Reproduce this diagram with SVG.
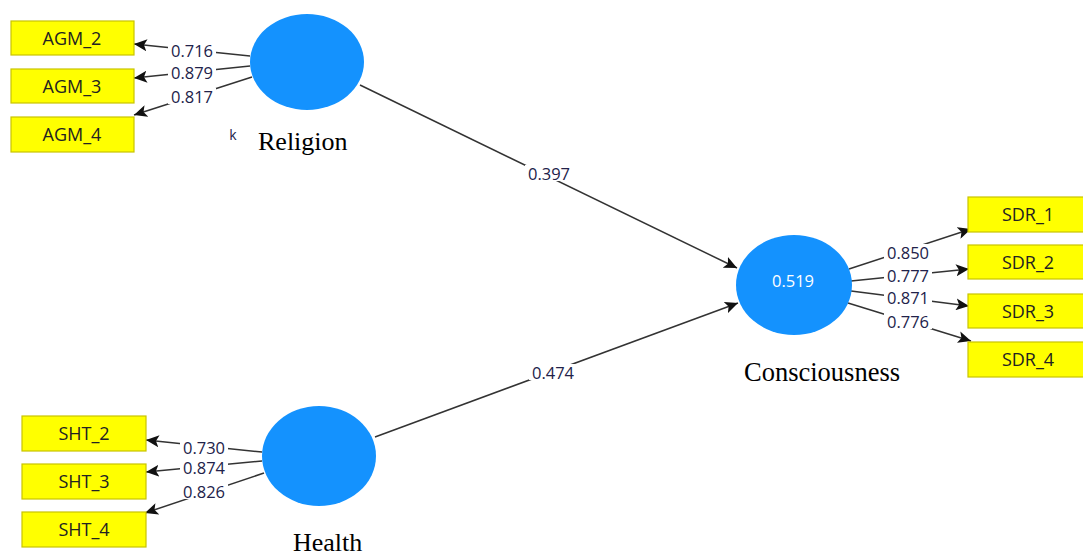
<svg xmlns="http://www.w3.org/2000/svg" width="1083" height="556" viewBox="0 0 1083 556">
<defs>
<marker id="ah" markerUnits="userSpaceOnUse" markerWidth="14" markerHeight="12" refX="13" refY="6" orient="auto">
<path d="M0,0 L13,6 L0,12 L3,6 z" fill="#111"/>
</marker>
<style>
.box{fill:#ffff00;stroke:#c9c400;stroke-width:1.2}
.bt{font-family:"Open Sans","Noto Sans",sans-serif;font-size:18px;fill:#222;text-anchor:middle;dominant-baseline:central}
.lat{fill:#1492fe}
.nm{font-family:"Liberation Serif","Times New Roman",serif;font-size:26px;fill:#000}
.ln{stroke:#333;stroke-width:1.5;fill:none;marker-end:url(#ah)}
.lb{font-family:"Open Sans","Noto Sans",sans-serif;font-size:16.5px;fill:#22224a;text-anchor:middle;dominant-baseline:central}
.bg{fill:#fff}
</style>
</defs>
<rect width="1083" height="556" fill="#fff"/>
<g id="connectors">
<line class="ln" x1="250" y1="56" x2="134" y2="44"/>
<line class="ln" x1="250" y1="66" x2="134" y2="78"/>
<line class="ln" x1="252" y1="77" x2="134" y2="115"/>
<line class="ln" x1="849" y1="269" x2="971" y2="229"/>
<line class="ln" x1="851" y1="281" x2="969" y2="269"/>
<line class="ln" x1="851" y1="291" x2="969" y2="306"/>
<line class="ln" x1="848" y1="303" x2="971" y2="341"/>
<line class="ln" x1="262" y1="452" x2="146" y2="440"/>
<line class="ln" x1="262" y1="461" x2="146" y2="472"/>
<line class="ln" x1="264" y1="473" x2="145" y2="513"/>
<line class="ln" x1="360" y1="85" x2="737" y2="268"/>
<line class="ln" x1="375" y1="437" x2="738" y2="303"/>
<rect class="bg" x="168" y="42" width="48" height="16"/>
<rect class="bg" x="168" y="65" width="48" height="15"/>
<rect class="bg" x="168" y="88" width="48" height="16"/>
<rect class="bg" x="884" y="244" width="48" height="16"/>
<rect class="bg" x="884" y="268" width="48" height="15"/>
<rect class="bg" x="884" y="290" width="48" height="15"/>
<rect class="bg" x="884" y="313" width="48" height="16"/>
<rect class="bg" x="180" y="439" width="48" height="16"/>
<rect class="bg" x="180" y="460" width="48" height="15"/>
<rect class="bg" x="180" y="483" width="48" height="16"/>
<rect class="bg" x="525" y="165" width="48" height="16"/>
<rect class="bg" x="529" y="364" width="48" height="16"/>
<text class="lb" x="192" y="50">0.716</text>
<text class="lb" x="192" y="72">0.879</text>
<text class="lb" x="192" y="96">0.817</text>
<text class="lb" x="908" y="252">0.850</text>
<text class="lb" x="908" y="275">0.777</text>
<text class="lb" x="908" y="297">0.871</text>
<text class="lb" x="908" y="321">0.776</text>
<text class="lb" x="204" y="447">0.730</text>
<text class="lb" x="204" y="467">0.874</text>
<text class="lb" x="204" y="491">0.826</text>
<text class="lb" x="549" y="173">0.397</text>
<text class="lb" x="553" y="372">0.474</text>
</g>
<g id="AGM_2"><rect class="box" x="11" y="21" width="123" height="34"/><text class="bt" x="72" y="38">AGM_2</text></g>
<g id="AGM_3"><rect class="box" x="11" y="69" width="123" height="34"/><text class="bt" x="72" y="86">AGM_3</text></g>
<g id="AGM_4"><rect class="box" x="11" y="117" width="123" height="35"/><text class="bt" x="72" y="134">AGM_4</text></g>
<g id="Religion"><ellipse class="lat" cx="307" cy="62" rx="57" ry="48"/><text class="lb" x="233" y="134" style="font-size:14px">k</text><text class="nm" x="258" y="150">Religion</text></g>
<g id="Consciousness"><ellipse class="lat" cx="794" cy="285" rx="58" ry="50"/><text class="lb" x="793" y="280" style="fill:#fff">0.519</text><text class="nm" x="744" y="381" style="font-size:26.5px">Consciousness</text></g>
<g id="Health"><ellipse class="lat" cx="319" cy="456" rx="57" ry="50"/><text class="nm" x="293" y="551">Health</text></g>
<g id="SDR_1"><rect class="box" x="968" y="197" width="125" height="35"/><text class="bt" x="1028" y="214">SDR_1</text></g>
<g id="SDR_2"><rect class="box" x="968" y="245" width="125" height="34"/><text class="bt" x="1028" y="262">SDR_2</text></g>
<g id="SDR_3"><rect class="box" x="968" y="294" width="125" height="34"/><text class="bt" x="1028" y="311">SDR_3</text></g>
<g id="SDR_4"><rect class="box" x="968" y="342" width="125" height="35"/><text class="bt" x="1028" y="359">SDR_4</text></g>
<g id="SHT_2"><rect class="box" x="22" y="416" width="124" height="35"/><text class="bt" x="84" y="433">SHT_2</text></g>
<g id="SHT_3"><rect class="box" x="22" y="464" width="124" height="35"/><text class="bt" x="84" y="481">SHT_3</text></g>
<g id="SHT_4"><rect class="box" x="22" y="512" width="124" height="35"/><text class="bt" x="84" y="529">SHT_4</text></g>
</svg>
